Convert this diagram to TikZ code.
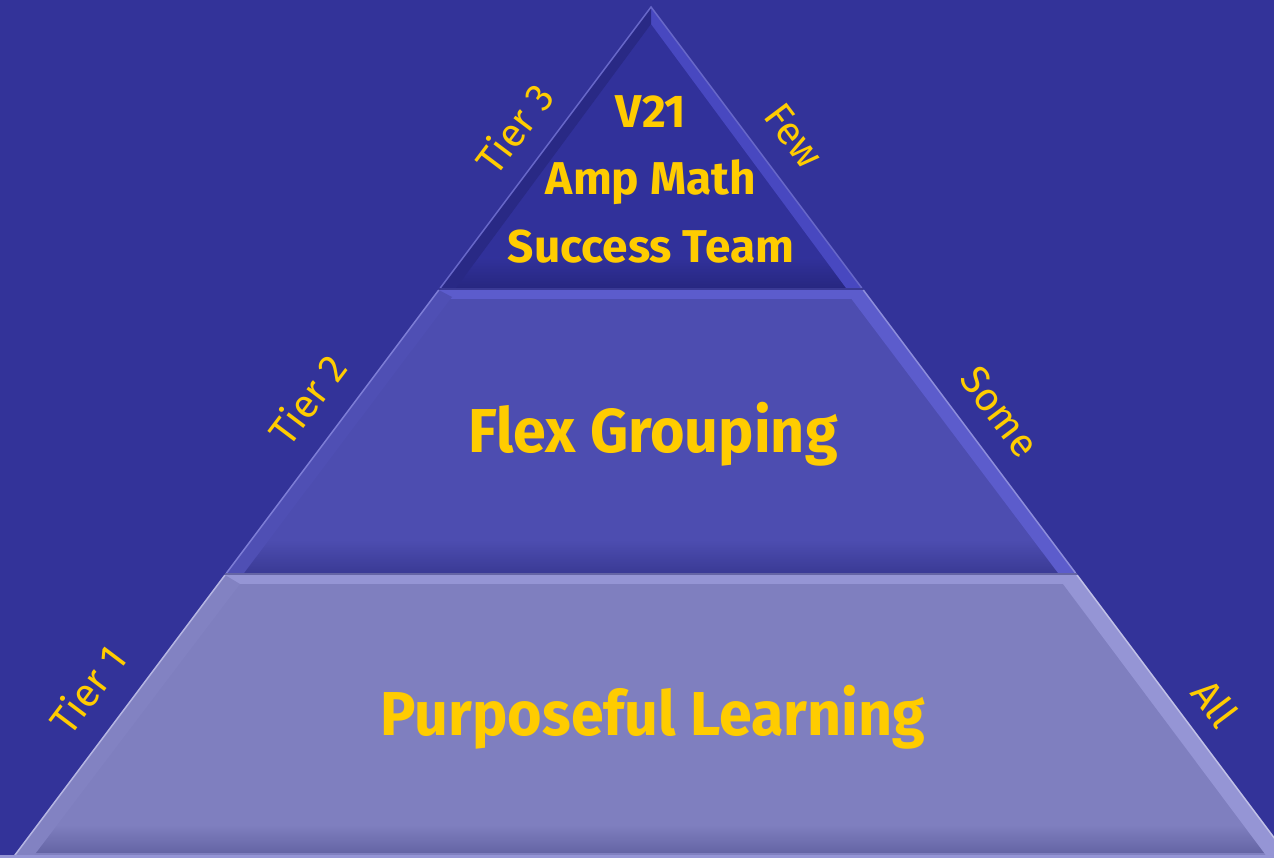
\documentclass[tikz,border=0pt]{standalone}
\usepackage{fontspec}
\usepackage{graphicx}
\setmainfont{Fira Sans}
\definecolor{bg}{HTML}{333399}
\definecolor{tthree}{HTML}{31319A}
\definecolor{tthreedark}{HTML}{272780}
\definecolor{tthreelight}{HTML}{4848C0}
\definecolor{ttwo}{HTML}{4D4DB0}
\definecolor{ttwodark}{HTML}{3A3A95}
\definecolor{ttwolight}{HTML}{5C5CCC}
\definecolor{tone}{HTML}{7F7FBF}
\definecolor{tonedark}{HTML}{6565A5}
\definecolor{tonelight}{HTML}{9595D5}
\definecolor{txt}{HTML}{FFCC00}
\newcommand\narrowtext[1]{\scalebox{0.955}[1]{#1}}
\tikzset{
  maintext/.style={text=txt,font=\bfseries\fontsize{62}{70}\selectfont,inner sep=0pt,anchor=base},
  toptext/.style={text=txt,font=\bfseries\fontsize{46}{52}\selectfont,inner sep=0pt,anchor=base},
  sidelabel/.style={text=txt,font=\fontsize{40}{42}\selectfont,inner sep=0pt},
  edgeline/.style={line width=1.5pt}
}
\begin{document}
\begin{tikzpicture}[x=1pt,y=-1pt]
\useasboundingbox (0,0) rectangle (1274,858);
\fill[bg] (0,0) rectangle (1274,858);
\clip (0,0) rectangle (1274,858);
% Tier 3
\begin{scope}
  \clip (651,7) -- (861.75,288) -- (440.25,288) -- cycle;
  \fill[tthree] (0,0) rectangle (1274,300);
  \shade[top color=tthree,bottom color=tthreedark] (0,258) rectangle (1274,288);
  \fill[tthreelight] (651,7) -- (861.75,288) -- (846,288) -- (651,24) -- cycle;
  \fill[tthreedark!80!tthree] (651,7) -- (651,24) -- (456,288) -- (440.25,288) -- cycle;
\end{scope}
\draw[edgeline,tthreelight!80!white!90!tthree] (440.25,288) -- (651,7) -- (861.75,288);
% Tier 2
\begin{scope}
  \clip (438.75,290) -- (863.25,290) -- (1075.5,573) -- (226.5,573) -- cycle;
  \fill[ttwo] (0,280) rectangle (1274,580);
  \fill[ttwolight] (0,290) rectangle (1274,299);
  \shade[top color=ttwo,bottom color=ttwodark] (0,540) rectangle (1274,573);
  \fill[ttwolight] (863.25,290) -- (1075.5,573) -- (1058,573) -- (850,297) -- cycle;
  \fill[ttwo!85!ttwolight] (438.75,290) -- (452,297) -- (244,573) -- (226.5,573) -- cycle;
\end{scope}
\draw[edgeline,ttwolight!80!white] (226.5,573) -- (438.75,290);
\draw[edgeline,ttwolight!70!white] (863.25,290) -- (1075.5,573);
\draw[line width=2pt,ttwodark] (438.75,289) -- (863.25,289);
% Tier 1
\begin{scope}
  \clip (225,575) -- (1077,575) -- (1289.25,858) -- (12.75,858) -- cycle;
  \fill[tone] (0,570) rectangle (1300,860);
  \fill[tonelight] (0,575) rectangle (1300,584);
  \shade[top color=tone,bottom color=tonedark] (0,825) rectangle (1300,852);
  \fill[tonelight] (1077,575) -- (1289.25,858) -- (1268,858) -- (1063,584) -- cycle;
  \fill[tone!85!tonelight] (225,575) -- (240,584) -- (32,858) -- (12.75,858) -- cycle;
\end{scope}
\draw[edgeline,tonelight!70!white] (12.75,858) -- (225,575);
\draw[edgeline,tonelight!60!white] (1077,575) -- (1289.25,858);
\draw[line width=2pt,tonedark] (225,574) -- (1077,574);
\draw[line width=3pt,tonelight] (0,856.5) -- (1274,856.5);
% texts
\node[toptext] (v21) at (651,128) {V21};
\node[toptext] (amp) at (651,195) {Amp Math};
\node[toptext] (succ) at (651,263) {Success Team};
\node[maintext] (flex) at (653,452) {\narrowtext{Flex Grouping}};
\node[maintext] (purp) at (653,735) {\narrowtext{Purposeful Learning}};
\node[sidelabel,rotate=53] (t3) at (514,128) {Tier 3};
\node[sidelabel,rotate=53] (t2) at (307,399) {Tier 2};
\node[sidelabel,rotate=53] (t1) at (87,689) {Tier 1};
\node[sidelabel,rotate=-53] (few) at (794,136) {Few};
\node[sidelabel,rotate=-53] (some) at (1000,412) {Some};
\node[sidelabel,rotate=-53] (all) at (1215,703) {All};
\end{tikzpicture}
\end{document}
